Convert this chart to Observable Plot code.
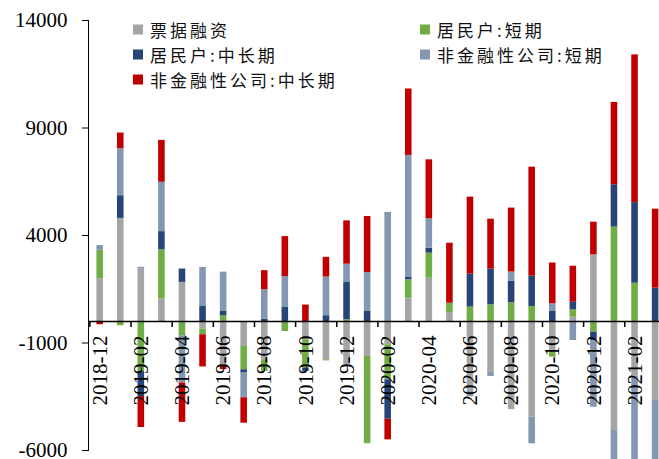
<!DOCTYPE html>
<html>
<head>
<meta charset="utf-8">
<script src="https://cdn.jsdelivr.net/npm/d3@7"></script>
<script src="https://cdn.jsdelivr.net/npm/@observablehq/plot@0.6"></script>
<style>
  html, body { margin: 0; padding: 0; background: #fff; }
  #chart { position: relative; width: 659px; height: 459px; overflow: hidden; }
  #legend { position: absolute; left: 0; top: 0; font-family: "Noto Sans CJK SC", sans-serif; font-size: 17px; letter-spacing: 3px; color: #111; }
  .item { position: absolute; display: flex; align-items: center; white-space: nowrap; transform: translateY(-50%); }
  .sw { width: 10px; height: 10px; margin-right: 7px; flex: none; }
</style>
</head>
<body>
<div id="chart"><div id="legend"></div></div>
<script>
// Monthly new RMB loans by component (100 million yuan)
const months = [
  "2018-12","2019-01","2019-02","2019-03","2019-04","2019-05","2019-06","2019-07",
  "2019-08","2019-09","2019-10","2019-11","2019-12","2020-01","2020-02","2020-03",
  "2020-04","2020-05","2020-06","2020-07","2020-08","2020-09","2020-10","2020-11",
  "2020-12","2021-01","2021-02","2021-03"
];
const seriesNames = ["票据融资", "居民户:短期", "居民户:中长期", "非金融性公司:短期", "非金融性公司:中长期"];
const seriesColors = ["#A5A5A5", "#70AD47", "#264478", "#8497B0", "#C00000"];

const billFinancing = [1980, 4795, 2440, 1060, 1820, -350, -2040, -1160, -1780, 0, -850, -1780, -2000, -1625, -1085, 1090,
  2015, 420, -3250, -2370, -4100, -4450, -1350, 200, 3100, -5070, -2550, -3670];
const householdShort = [1330, -200, -2330, 2280, -660, -265, 265, -1085, -540, -465, -1320, -50, 80, -4060, -1630, 850,
  1160, 430, 670, 775, 870, 700, -310, 340, -500, 4390, 1780, 0];
const householdLong = [0, 1055, -1160, 840, 620, 700, 200, -155, 115, 650, -150, 270, 1735, 465, -1830, 110,
  235, 0, 1535, 1660, 1010, 1410, 465, 355, -390, 1970, 3750, 1550];
const corporateShort = [220, 2185, 80, 2295, -2200, 1815, 1830, -1150, 1365, 1440, 0, 1800, 850, 1815, 5075, 5675,
  1365, 0, -250, -185, 420, -1240, 360, -885, -3100, -1800, -4000, -2800];
const corporateLong = [-150, 730, -1440, 1950, -1830, -1500, -200, -1180, 885, 1860, 765, 915, 2015, 2605, -960, 3090,
  2745, 2790, 3580, 2325, 2975, 5070, 1895, 1675, 1520, 3830, 6870, 3675];

const yTicks = [-6000, -1000, 4000, 9000, 14000];
const labelMonths = months.filter((d, i) => i % 2 === 0);

// long table, series order defines stacking order (positives up, negatives down)
const seriesValues = [billFinancing, householdShort, householdLong, corporateShort, corporateLong];
const table = seriesNames.flatMap((name, s) =>
  months.map((month, i) => ({month, series: name, value: seriesValues[s][i]}))
);

const W = 659, H = 459;
const xRange = [89.4, 665.4];
const step = (xRange[1] - xRange[0]) / months.length;
const serif = "'Liberation Serif', 'Times New Roman', serif";

const chart = Plot.plot({
  width: W,
  height: H,
  marginTop: 20,
  marginBottom: 9,
  marginLeft: 88,
  marginRight: 0,
  style: {fontFamily: serif, fontSize: "21px", color: "#000", background: "transparent", overflow: "visible"},
  x: {domain: months, range: xRange, paddingInner: 0.68, paddingOuter: 0.34, round: false, axis: null},
  y: {domain: [-6000, 14000], ticks: yTicks, tickFormat: d => String(d), tickSize: 6, tickPadding: 15, line: true, label: null},
  color: {domain: seriesNames, range: seriesColors},
  marks: [
    Plot.barY(table, Plot.stackY({x: "month", y: "value", fill: "series"})),
    Plot.ruleY([0], {stroke: "#000", strokeWidth: 1.5}),
    Plot.ruleX(labelMonths, {x: d => d, y1: 0, y2: 0, insetBottom: -6, dx: -step / 2, stroke: "#000", strokeWidth: 1.5}),
    Plot.text(labelMonths, {x: d => d, y: 0, text: d => d, rotate: -90, textAnchor: "end", dy: 14, fontSize: 21, fill: "#000"})
  ]
});
const chartDiv = document.getElementById("chart");
chartDiv.insertBefore(chart, chartDiv.firstChild);
chart.style.position = "absolute";
chart.style.left = "0px";
chart.style.top = "0px";

// legend: two columns, three rows
const legendCols = [133, 420];
const legendRows = [29, 54, 79];
const legend = document.getElementById("legend");
seriesNames.forEach((name, i) => {
  const item = document.createElement("div");
  item.className = "item";
  item.style.left = legendCols[i % 2] + "px";
  item.style.top = legendRows[Math.floor(i / 2)] + "px";
  const sw = document.createElement("span");
  sw.className = "sw";
  sw.style.background = seriesColors[i];
  const label = document.createElement("span");
  label.textContent = name;
  item.appendChild(sw);
  item.appendChild(label);
  legend.appendChild(item);
});
</script>
</body>
</html>
